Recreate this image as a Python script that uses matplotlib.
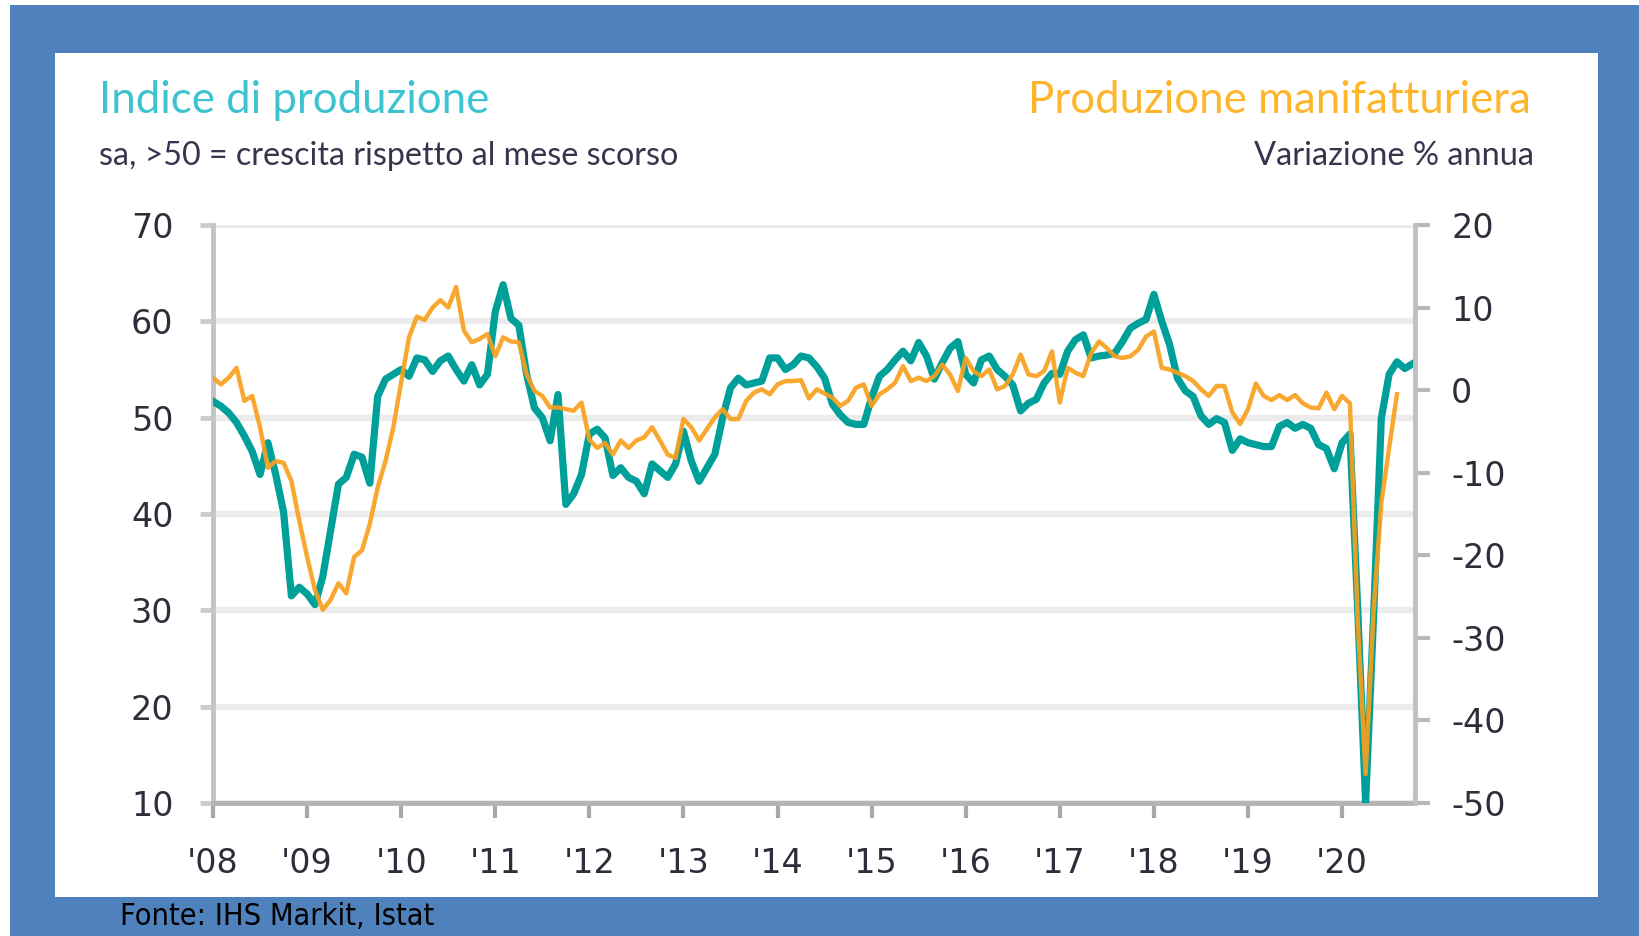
import matplotlib
matplotlib.use("Agg")
import matplotlib.pyplot as plt
from matplotlib.patches import Rectangle
import numpy as np

# ---------------- data ----------------
years = list(range(2008, 2021))
year_labels = ["'08", "'09", "'10", "'11", "'12", "'13", "'14", "'15", "'16", "'17", "'18", "'19", "'20"]
start_year = 2008

# Indice di produzione (PMI output, sa, >50 = growth), monthly Jan 2008 - Oct 2020
pmi_output = [
    51.7, 51.2, 50.5, 49.5, 48.1, 46.5, 44.1, 47.4, 44.1, 40.2, 31.5, 32.4,   # 2008
    31.7, 30.6, 33.5, 38.3, 43.1, 43.8, 46.2, 45.9, 43.2, 52.2, 54.0, 54.5,   # 2009
    55.0, 54.3, 56.2, 56.0, 54.8, 55.9, 56.4, 55.0, 53.8, 55.5, 53.4, 54.5,   # 2010
    61.0, 63.8, 60.3, 59.6, 54.5, 51.0, 50.0, 47.6, 52.4, 41.0, 42.1, 44.1,   # 2011
    48.3, 48.8, 47.9, 44.0, 44.8, 43.8, 43.4, 42.1, 45.2, 44.5, 43.8, 45.2,   # 2012
    48.6, 45.5, 43.4, 44.8, 46.2, 50.0, 53.1, 54.1, 53.4, 53.6, 53.8, 56.2,   # 2013
    56.2, 55.0, 55.5, 56.4, 56.2, 55.3, 54.1, 51.4, 50.3, 49.5, 49.3, 49.3,   # 2014
    52.1, 54.3, 55.0, 56.0, 56.9, 55.9, 57.8, 56.4, 54.0, 55.7, 57.2, 57.9,   # 2015
    54.5, 53.6, 56.0, 56.4, 55.0, 54.3, 53.4, 50.7, 51.5, 51.9, 53.6, 54.6,   # 2016
    54.5, 56.9, 58.1, 58.6, 56.2, 56.4, 56.5, 56.7, 57.9, 59.3, 59.8, 60.2,   # 2017
    62.8, 60.0, 57.6, 54.1, 52.8, 52.2, 50.2, 49.3, 49.9, 49.5, 46.6, 47.8,   # 2018
    47.4, 47.2, 47.0, 47.0, 49.1, 49.5, 48.9, 49.3, 48.9, 47.2, 46.8, 44.7,   # 2019
    47.4, 48.3, 30.0, 10.0, 29.0, 49.9, 54.5, 55.8, 55.1, 55.6,               # 2020
]

# Produzione manifatturiera, variazione % annua, monthly Jan 2008 - Aug 2020
manuf_yoy = [
    1.5, 0.7, 1.5, 2.7, -1.3, -0.7, -4.5, -9.4, -8.6, -8.8, -11.0, -15.8,          # 2008
    -20.2, -24.2, -26.6, -25.4, -23.4, -24.6, -20.2, -19.4, -16.2, -11.8, -8.6, -4.5,  # 2009
    1.0, 6.4, 8.9, 8.5, 10.0, 10.9, 10.0, 12.5, 7.2, 5.8, 6.2, 6.8,                # 2010
    4.1, 6.4, 5.9, 5.8, 1.9, -0.1, -0.7, -2.1, -2.1, -2.3, -2.5, -1.5,             # 2011
    -6.0, -7.0, -6.4, -7.8, -6.1, -7.0, -6.1, -5.7, -4.5, -6.1, -7.8, -8.2,        # 2012
    -3.5, -4.5, -6.1, -4.7, -3.3, -2.3, -3.5, -3.5, -1.3, -0.3, 0.1, -0.5,         # 2013
    0.7, 1.1, 1.1, 1.2, -1.0, 0.1, -0.4, -0.9, -1.9, -1.3, 0.3, 0.7,               # 2014
    -1.9, -0.5, 0.1, 0.9, 2.9, 1.1, 1.5, 1.1, 1.7, 3.1, 1.9, -0.1,                 # 2015
    3.9, 2.3, 1.7, 2.5, 0.1, 0.5, 1.9, 4.3, 1.9, 1.7, 2.3, 4.7,                    # 2016
    -1.5, 2.7, 2.1, 1.7, 4.5, 5.9, 5.1, 4.1, 3.9, 4.1, 4.9, 6.5,                   # 2017
    7.1, 2.7, 2.5, 2.1, 1.7, 1.1, 0.1, -0.7, 0.5, 0.5, -2.7, -4.1,                 # 2018
    -2.3, 0.8, -0.7, -1.2, -0.6, -1.2, -0.6, -1.6, -2.1, -2.2, -0.3, -2.3,         # 2019
    -0.7, -1.6, -28.0, -46.5, -27.0, -13.7, -7.0, -0.5,                            # 2020
]

left_ticks = [10, 20, 30, 40, 50, 60, 70]
right_ticks = [-50, -40, -30, -20, -10, 0, 10, 20]

title_left = "Indice di produzione"
subtitle_left = "sa, >50 = crescita rispetto al mese scorso"
title_right = "Produzione manifatturiera"
subtitle_right = "Variazione % annua"
source = "Fonte: IHS Markit, Istat"

# ---------------- style ----------------
TEAL = "#00a09a"
ORANGE = "#f8a11e"
BLUE = "#4f81bd"
W, H, DPI = 1640, 936, 100
plt.rcParams['axes.unicode_minus'] = False

def fx(px):
    return px / W

def fy(py):
    return 1 - py / H

fig = plt.figure(figsize=(W / DPI, H / DPI), dpi=DPI)
fig.patch.set_facecolor("white")
fig.add_artist(Rectangle((fx(10), 0), 1 - fx(10), fy(5), transform=fig.transFigure,
                         facecolor=BLUE, edgecolor="none", zorder=-10))
fig.add_artist(Rectangle((fx(55), fy(897)), fx(1598) - fx(55), fy(53) - fy(897),
                         transform=fig.transFigure, facecolor="white", edgecolor="none", zorder=-9))

ax = fig.add_axes([fx(213), fy(803), fx(1415) - fx(213), fy(225) - fy(803)])
ax.patch.set_visible(False)
ax2 = ax.twinx()
ax2.patch.set_visible(False)

t1 = start_year + np.arange(len(pmi_output)) / 12.0
t2 = start_year + np.arange(len(manuf_yoy)) / 12.0

ax.plot(t1, pmi_output, color=TEAL, lw=5.2, solid_joinstyle="round", zorder=3)
ax2.plot(t2, manuf_yoy, color=ORANGE, lw=3.2, solid_joinstyle="round", alpha=0.92, zorder=3)

ax.set_xlim(start_year, start_year + 153.3 / 12)
ax.set_ylim(10, 70)
ax2.set_ylim(-50, 20)

ax.set_yticks(left_ticks)
ax2.set_yticks(right_ticks)
ax.set_xticks(years)
ax.set_xticklabels(year_labels)

ax.set_axisbelow(True)
ax.yaxis.grid(True, color="#ebebeb", lw=4.5)
ax.xaxis.grid(False)

for s in ["top", "right"]:
    ax.spines[s].set_visible(False)
for s in ["top", "left", "bottom"]:
    ax2.spines[s].set_visible(False)
ax.spines["left"].set_color("#c4c4c4")
ax.spines["left"].set_linewidth(3.5)
ax.spines["bottom"].set_color("#b4b4b4")
ax.spines["bottom"].set_linewidth(3.5)
ax2.spines["right"].set_color("#c0c0c0")
ax2.spines["right"].set_linewidth(3.5)

ax.tick_params(axis="y", direction="out", length=9.5, width=3.5, color="#cccccc",
               pad=19, labelsize=24, labelcolor="#2e2e3a")
ax.tick_params(axis="x", direction="out", length=11, width=3, color="#a8a8a8",
               pad=21, labelsize=24, labelcolor="#2e2e3a")
ax2.tick_params(axis="y", direction="out", length=11, width=3, color="#b8b8b8",
                pad=15, labelsize=24, labelcolor="#2e2e3a")

# ---------------- texts ----------------
fig.text(fx(99), fy(113), title_left, ha="left", va="baseline", fontsize=31.5,
         color="#3dc3d0", family="Lato")
fig.text(fx(99), fy(165), subtitle_left, ha="left", va="baseline", fontsize=23.2,
         color="#35354d", family="Lato")
fig.text(fx(1531), fy(113), title_right, ha="right", va="baseline", fontsize=31.5,
         color="#ffb52a", family="Lato")
fig.text(fx(1534), fy(165), subtitle_right, ha="right", va="baseline", fontsize=23.5,
         color="#35354d", family="Lato")
fig.text(fx(120), fy(925), source, ha="left", va="baseline", fontsize=22,
         color="black", family="DejaVu Sans", fontstretch="condensed")

fig.savefig("out.png", dpi=DPI)
